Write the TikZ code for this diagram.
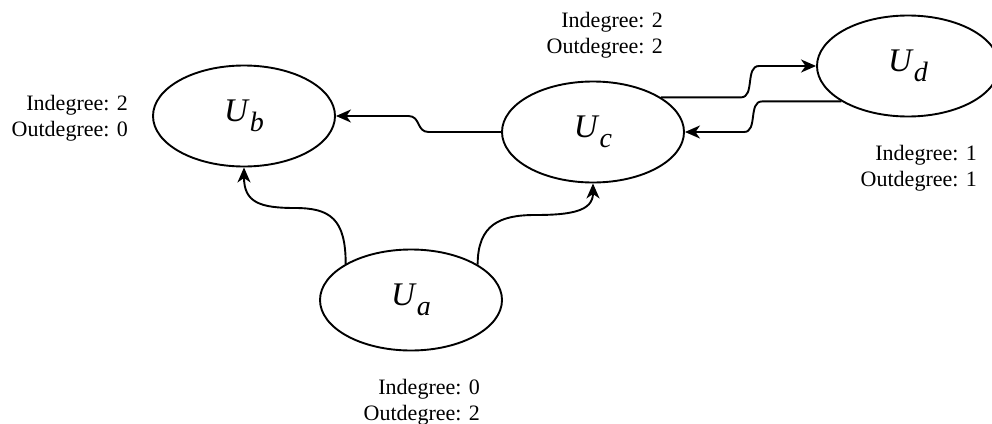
\documentclass[tikz,border=0pt]{standalone}
\usepackage{fontspec}
\setmainfont{Liberation Serif}
\usetikzlibrary{arrows.meta,calc,shapes.geometric}

% node label: italic U with a lowered italic subscript letter
\newcommand\ULabel[1]{\textit{U}\raisebox{-10pt}{\fontsize{28}{28}\selectfont\textit{#1}}}

\tikzset{
  state/.style={draw, ellipse, line width=1.9pt, minimum width=182pt,
    minimum height=101pt, inner sep=0pt, font=\fontsize{33}{33}\selectfont},
  edge/.style={line width=1.9pt,
    -{Stealth[length=15pt,width=13pt,inset=4.5pt]}},
  degree/.style={align=right, inner sep=0pt, anchor=north east,
    font=\fontsize{22}{26}\selectfont}
}

\begin{document}
\begin{tikzpicture}[x=1pt,y=-1pt]
  \useasboundingbox (0,0) rectangle (992,423);

  % states
  \node[state] (Ub) at (244,116) {\ULabel{b}};
  \node[state] (Uc) at (593,132) {\ULabel{c}};
  \node[state] (Ud) at (908,66)  {\ULabel{d}};
  \node[state] (Ua) at (411,300) {\ULabel{a}};

  % degree annotations
  \node[degree] (lb) at (128,95)  {Indegree: 2\\Outdegree: 0};
  \node[degree] (lc) at (663,12)  {Indegree: 2\\Outdegree: 2};
  \node[degree] (ld) at (977,145) {Indegree: 1\\Outdegree: 1};
  \node[degree] (la) at (480,379) {Indegree: 0\\Outdegree: 2};

  % centres of the small steps in the horizontal edges
  \coordinate (sbc) at ($(Uc.west)!0.5!(Ub.east)$);
  \coordinate (scd) at (750,0);
  \coordinate (sdc) at (753,0);
  % flat middles of the two curved edges leaving U_a
  \coordinate (mab) at (295,208);
  \coordinate (mac) at (535,215);

  % edges between U_b, U_c and U_d
  \draw[edge] (Uc.west) -- ($(sbc |- Uc.west)+(10,0)$)
    .. controls +(-12,0) and +(12,0) .. ($(sbc |- Ub.east)+(-10,0)$)
    -- (Ub.east);
  \draw[edge] (Uc.27.6) -- ($(scd |- Uc.27.6)+(-9,0)$)
    .. controls +(14,0) and +(-14,0) .. ($(scd |- Ud.west)+(9,0)$)
    -- (Ud.west);
  \draw[edge] (Ud.208.3) -- ($(sdc |- Ud.208.3)+(9,0)$)
    .. controls +(-14,0) and +(14,0) .. ($(sdc |- Uc.east)+(-9,0)$)
    -- (Uc.east);

  % edges leaving U_a
  \draw[edge] (Ua.151.7) .. controls +(0,-45) and +(35,0) .. (mab)
    .. controls +(-35,0) and +(0,35) .. (Ub.south);
  \draw[edge] (Ua.28.3) .. controls +(0,-40) and +(-35,0) .. (mac)
    .. controls +(35,0) and +(0,28) .. (Uc.south);
\end{tikzpicture}
\end{document}
